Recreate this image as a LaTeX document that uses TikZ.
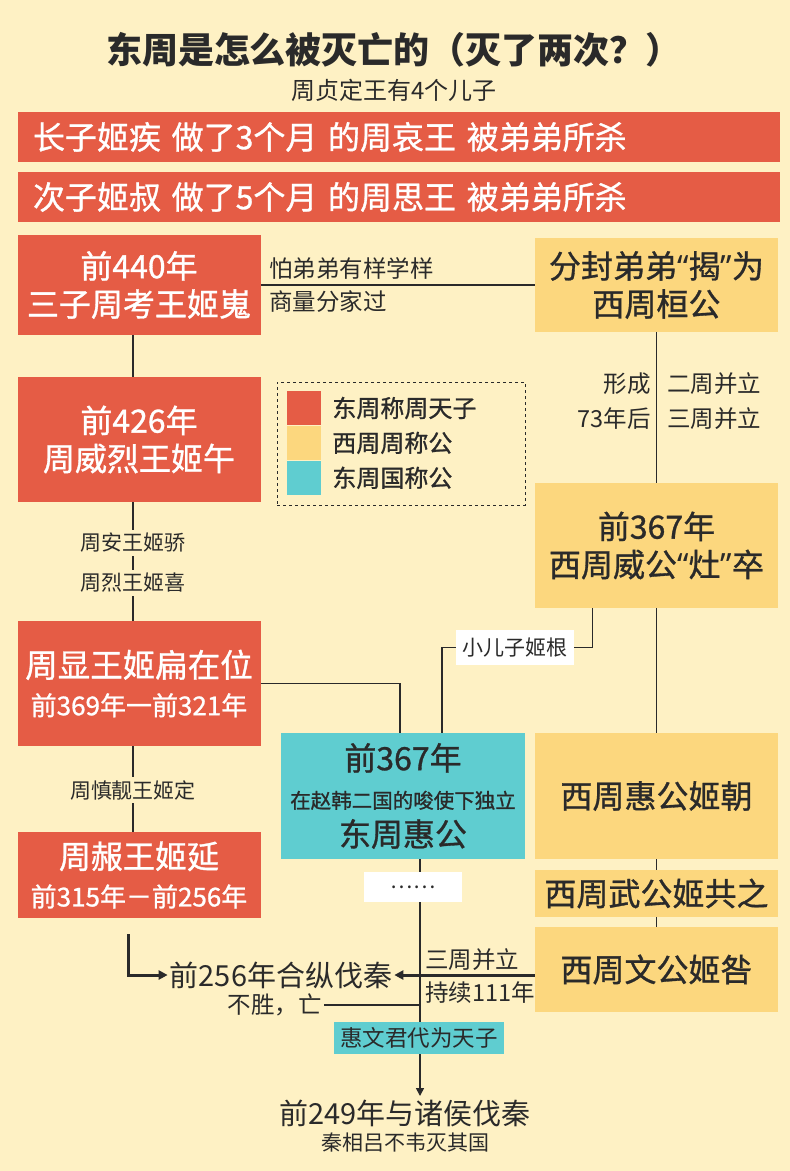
\documentclass[tikz,border=0pt]{standalone}
\usepackage{fontspec}
\setmainfont{Noto Sans CJK SC}
\newfontfamily\medcjk[FakeBold=1]{Noto Sans CJK SC}
\newfontfamily\latq{Noto Sans}
\usetikzlibrary{arrows.meta,positioning}

\definecolor{bgcol}{HTML}{FEF1C4}
\definecolor{kingred}{HTML}{E55C45}
\definecolor{westyel}{HTML}{FCD77E}
\definecolor{eastcyan}{HTML}{5FCDD0}
\definecolor{ink}{HTML}{2A2A2A}

\newcommand\fTitle{\fontsize{36}{42}\selectfont\bfseries}
\newcommand\fSub{\fontsize{24}{28}\selectfont}
\newcommand\fBar{\medcjk\fontsize{32}{38}\selectfont}
\newcommand\fBox{\medcjk\fontsize{32}{38}\selectfont}
\newcommand\fSmall{\fontsize{20.5}{30}\selectfont}
\newcommand\fLab{\fontsize{21}{25}\selectfont}
\newcommand\fSide{\fontsize{23.5}{28}\selectfont}
\newcommand\fLeg{\medcjk\fontsize{24}{28}\selectfont}
\newcommand\fBig{\fontsize{29}{33}\selectfont}
\newcommand\fFoot{\fontsize{21}{25}\selectfont}
\newcommand\qopen{{\latq “}}
\newcommand\qclose{{\latq ”}}

\pgfdeclarelayer{bg}
\pgfdeclarelayer{wires}
\pgfsetlayers{bg,wires,main}

\begin{document}
\begin{tikzpicture}[x=1pt, y=-1pt,
  box/.style={minimum width=243pt, inner sep=0pt, align=center, font=\fBox},
  kbox/.style={box, fill=kingred, text=white},
  wbox/.style={box, fill=westyel, text=ink},
  ebox/.style={box, fill=eastcyan, text=ink},
  bar/.style={fill=kingred, text=white, minimum height=50pt, inner xsep=15pt,
    text width=732pt, align=left, font=\fBar},
  lab/.style={font=\fLab, text=ink, inner sep=2pt},
  side/.style={lab, font=\fSide},
  note/.style={lab, fill=bgcol, inner sep=3pt},
  tag/.style={lab, inner sep=0pt},
  swatch/.style={minimum width=34pt, minimum height=34.5pt, inner sep=0pt},
  link/.style={draw=ink, line width=1.6pt},
  arr/.style={link, -{Triangle[length=8pt,width=8pt]}},
  bigarr/.style={draw=ink, line width=3pt, -{Triangle[length=9pt,width=9pt]}},
]
\useasboundingbox (0,0) rectangle (790,1171);
\begin{pgfonlayer}{bg}
\fill[bgcol] (0,0) rectangle (790,1171);
\end{pgfonlayer}

% Title
\node[font=\fTitle, text=ink] (title) at (394,50) {东周是怎么被灭亡的（灭了两次？）};
\node[font=\fSub, text=ink] (sub) at (394,90) {周贞定王有4个儿子};

% The two elder sons
\node[bar] (son1) at (399,137) {长子姬疾 做了3个月 的周哀王 被弟弟所杀};
\node[bar] (son2) at (399,197) {次子姬叔 做了5个月 的周思王 被弟弟所杀};

% Left column: kings of Eastern Zhou
\node[kbox, minimum height=100pt] (kao) at (139,285) {前440年\\三子周考王姬嵬};
\node[kbox, minimum height=125pt] (weilie) at (139,439.5) {前426年\\周威烈王姬午};
\node[kbox, minimum height=125pt] (xian) at (139,683.5)
  {{\fontsize{32.5}{38}\selectfont 周显王姬扁在位}\\{\fontsize{26}{32}\selectfont 前369年一前321年}};
\node[kbox, minimum height=86pt] (nan) at (139,875)
  {{\fontsize{32}{34}\selectfont 周赧王姬延}\\{\fontsize{26}{32}\selectfont 前315年－前256年}};

% Right column: dukes of Western Zhou
\node[wbox, minimum height=94pt] (huan) at (656.5,285) {分封弟弟\qopen 揭\qclose 为\\西周桓公};
\node[wbox, minimum height=125pt] (weigong) at (656.5,545.5) {前367年\\西周威公\qopen 灶\qclose 卒};
\node[wbox, minimum height=126pt] (huigong) at (656.5,796) {西周惠公姬朝};
\node[wbox, minimum height=47pt] (wugong) at (656.5,893.5) {西周武公姬共之};
\node[wbox, minimum height=85pt] (wengong) at (656.5,969.5) {西周文公姬咎};

% Middle: Eastern Zhou state
\node[ebox, minimum width=244pt, minimum height=126pt] (dhui) at (403,796)
  {前367年\\{\fSmall 在赵韩二国的唆使下独立}\\东周惠公};
\coordinate (dhuitail) at ([xshift=17pt]dhui.south);
\coordinate (nantail) at ([xshift=-11pt,yshift=-16pt]nan.south);

% Legend
\node[draw=ink, dashed, line width=0.8pt, minimum width=248pt, minimum height=123pt] (legend) at (401,443.5) {};
\node[swatch, fill=kingred] (sw1) at (304,408) {};
\node[swatch, fill=westyel, below=0pt of sw1] (sw2) {};
\node[swatch, fill=eastcyan, below=0pt of sw2] (sw3) {};
\node[lab, font=\fLeg, right=9pt of sw1] (lg1) {东周称周天子};
\node[lab, font=\fLeg, right=9pt of sw2] (lg2) {西周周称公};
\node[lab, font=\fLeg, right=9pt of sw3] (lg3) {东周国称公};

% Side notes
\node[side, anchor=west] (fear) at (267,268) {怕弟弟有样学样};
\node[side, anchor=west] (split) at (267,302) {商量分家过};
\node[side, anchor=east] (form) at (653,384) {形成};
\node[side, anchor=west] (two) at (665,384) {二周并立};
\node[side, anchor=east] (later) at (653,419) {73年后};
\node[side, anchor=west] (three) at (665,419) {三周并立};
\node[note] (an) at (133,543) {周安王姬骄};
\node[note] (lie) at (133,583) {周烈王姬喜};
\node[note] (shenjing) at (133,790) {周慎靓王姬定};
\node[tag, fill=white, minimum width=118pt, minimum height=35pt] (gen) at (515,647.5) {小儿子姬根};
\node[tag, fill=white, minimum width=98pt, minimum height=30pt] (dots) at (413,887) {……};

% Bottom
\node[font=\fBig, text=ink, inner xsep=2pt] (hezong) at (281,975) {前256年合纵伐秦};
\node[side, anchor=east] (lose) at (324,1005) {不胜，亡};
\node[side, anchor=west] (three2) at (423,960) {三周并立};
\node[side, anchor=west] (last) at (423,993) {持续111年};
\node[tag, font=\fontsize{22.5}{26}\selectfont, fill=eastcyan, minimum width=170pt, minimum height=32pt] (huiwen) at (419,1038) {惠文君代为天子};
\node[font=\fBig, text=ink] (fa) at (405,1113) {前249年与诸侯伐秦};
\node[font=\fFoot, text=ink] (lv) at (405,1143) {秦相吕不韦灭其国};

% Connectors
\begin{pgfonlayer}{wires}
\draw[link] (kao.east) -- (huan.west);
\draw[link] ([xshift=-6pt]kao.south) -- ([xshift=-6pt]weilie.north);
\draw[link] ([xshift=-6pt]weilie.south) -- ([xshift=-6pt]xian.north);
\draw[link] ([xshift=-6pt]xian.south) -- ([xshift=-6pt]nan.north);
\draw[link] (huan) -- (weigong);
\draw[link] (weigong) -- (huigong);
\draw[link] (huigong) -- (wugong);
\draw[link] (wugong) -- (wengong);
\draw[link] (xian.east) -| ([xshift=-3pt]dhui.north);
\draw[link] ([xshift=-64pt]weigong.south) |- (gen.east);
\draw[link] (gen.west) -| ([xshift=39pt]dhui.north);
\draw[arr] (dhuitail) -- (dhuitail |- fa.north);
\draw[link] (lose.east) -- (lose.east -| dhuitail);
\draw[bigarr] (wengong.west |- hezong) -- (hezong.east);
\draw[bigarr] (nantail) |- (hezong.west);
\end{pgfonlayer}
\end{tikzpicture}
\end{document}
